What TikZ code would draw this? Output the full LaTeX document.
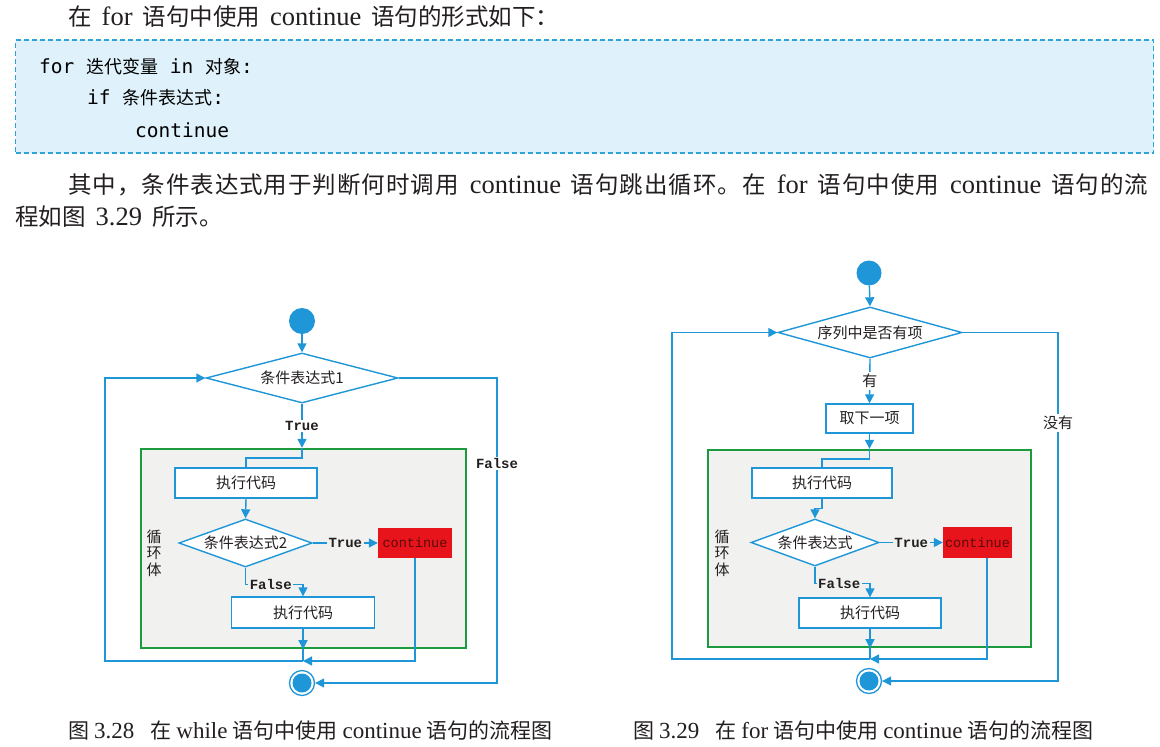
\documentclass[tikz,border=0pt]{standalone}
\usepackage{fontspec}
\setmainfont{Liberation Serif}
\newfontfamily\zh{Noto Sans CJK SC}
\newfontfamily\codefont{DejaVu Sans Mono}
\newfontfamily\flowmono{Liberation Mono}
\usetikzlibrary{arrows.meta,shapes.geometric,calc}

\definecolor{fblue}{HTML}{1E96D8}
\definecolor{loopgreen}{HTML}{1C9B3E}
\definecolor{loopfill}{HTML}{F1F1F0}
\definecolor{contred}{HTML}{E7141B}
\definecolor{contink}{HTML}{5A0A0A}
\definecolor{codefill}{HTML}{DFF1FA}
\definecolor{codeedge}{HTML}{2EA3DC}
\definecolor{ink}{HTML}{231F20}

% spread the characters of a run of text with stretchable glue
\def\spreadchars#1{\spreadaux#1\relax}
\def\spreadaux#1{\ifx#1\relax\else#1\hskip 0pt plus 1fil\relax\expandafter\spreadaux\fi}
% body text: CJK and Latin sizes, and the gap between them
\newcommand\bz[1]{{\zh\fontsize{23.5pt}{27pt}\selectfont #1}}
\newcommand\bl[1]{{\fontsize{26.5pt}{27pt}\selectfont #1}}
\newcommand\bgap{\hspace{10pt}}
% caption text
\newcommand\cz[1]{{\zh\fontsize{21pt}{24pt}\selectfont #1}}
\newcommand\cl[1]{{\fontsize{23pt}{24pt}\selectfont #1}}

\begin{document}
\begin{tikzpicture}[x=1pt,y=-1pt,
  body/.style={inner sep=0pt,anchor=west,text=ink},
  codeline/.style={inner sep=0pt,anchor=west,text=black,font=\fontsize{19.5pt}{24pt}\selectfont},
  codebox/.style={draw=codeedge,fill=codefill,line width=1.5pt,dash pattern=on 5pt off 3pt},
  caption/.style={inner sep=0pt,anchor=west,text=ink},
  flow/.style={draw=fblue,line width=1.4pt},
  arr/.style={flow,-{Triangle[length=9pt,width=9pt]}},
  stepbox/.style={draw=fblue,fill=white,line width=1.4pt,inner sep=0pt,text=ink,
    font=\fontsize{15pt}{18pt}\selectfont\zh},
  cond/.style={diamond,draw=fblue,fill=white,line width=1.4pt,inner sep=0pt,aspect=3.6,text=ink,
    font=\fontsize{15pt}{18pt}\selectfont\zh},
  contbox/.style={fill=contred,inner sep=0pt,text=contink,font=\fontsize{13.5pt}{16pt}\selectfont\flowmono},
  loopbox/.style={draw=loopgreen,fill=loopfill,line width=2.4pt,inner sep=0pt},
  startc/.style={circle,fill=fblue,inner sep=0pt,minimum size=26pt},
  endc/.style={circle,draw=fblue,line width=1.3pt,fill=white,inner sep=0pt,minimum size=25pt,
    path picture={\fill[fblue] (path picture bounding box.center) circle (9.5pt);}},
  lbl/.style={inner sep=1.5pt,text=ink,font=\fontsize{14pt}{16pt}\selectfont\bfseries\flowmono},
  zhlbl/.style={inner sep=2pt,text=ink,font=\fontsize{15pt}{18pt}\selectfont\zh},
  looptag/.style={inner sep=0pt,align=center,text=ink,font=\fontsize{15pt}{16.5pt}\selectfont\zh}
]
\useasboundingbox (0,0) rectangle (1160,747);
\fill[white] (0,0) rectangle (1160,747);

% ---- running text and code sample ----
\node[body] (t1) at (68,17) {\bz{在}\bgap\bl{for}\bgap\bz{语句中使用}\bgap\bl{continue}\bgap\bz{语句的形式如下：}};
\node[codebox,minimum width=1138pt,minimum height=113pt] (code) at (584.5,96.5) {};
\node[codeline] (c1) at (39,67) {{\codefont for }{\zh\fontsize{18pt}{22pt}\selectfont 迭代变量}{\codefont{} in }{\zh\fontsize{18pt}{22pt}\selectfont 对象}{\codefont :}};
\node[codeline] (c2) at (87,98) {{\codefont if }{\zh\fontsize{18pt}{22pt}\selectfont 条件表达式}{\codefont :}};
\node[codeline] (c3) at (135,130) {\codefont continue};
\node[body] (t2) at (68,185) {\hbox to 1080pt{\bz{\spreadchars{其中，条件表达式用于判断何时调用}}\bgap\bl{continue}\bgap\bz{\spreadchars{语句跳出循环。在}}\bgap\bl{for}\bgap\bz{\spreadchars{语句中使用}}\bgap\bl{continue}\bgap\bz{\spreadchars{语句的}流}}};
\node[body] (t3) at (15,217) {\bz{程如图}\bgap\bl{3.29}\bgap\bz{所示。}};

% ---- while loop with continue ----
\node[loopbox,minimum width=325pt,minimum height=199pt] (aLoop) at (303.5,548.5) {};
\node[startc] (aS) at (302,321) {};
\node[cond,minimum width=192pt,minimum height=50pt] (aD1) at (302,378) {条件表达式1};
\node[stepbox,minimum width=142pt,minimum height=30pt] (aB1) at (246,483) {执行代码};
\node[cond,minimum width=121pt,minimum height=48pt] (aD2) at (245.5,543) {条件表达式2};
\node[contbox,minimum width=74pt,minimum height=30pt] (aC) at (415,543) {continue};
\node[stepbox,minimum width=143pt,minimum height=31pt] (aB2) at (303,612.5) {执行代码};
\node[endc] (aE) at (302,683) {};
\node[looptag] (aTag) at (154,553) {循\\环\\体};
\coordinate (aJ) at (aB2.south |- 0,661);
\coordinate (aL) at (105,661);
\coordinate (aR) at (497,683);

\draw[arr] (aS) -- (aD1.north);
\draw[arr] (aD1.south) -- node[lbl,fill=white]{True} (aD1.south |- aLoop.north);
\draw[flow] (aD1.south |- aLoop.north) -- ++(0,10) -| (aB1.north);
\draw[arr] (aB1.south) -- (aD2.north);
\draw[arr] (aD2.east) -- node[lbl,fill=loopfill]{True} (aC.west);
\draw[arr] (aD2.south) |- node[lbl,fill=loopfill,pos=0.72]{False} ($(aB2.north)+(0,-12)$) -- (aB2.north);
\draw[arr] (aB2.south) -- (aB2.south |- aLoop.south);
\draw[flow] (aB2.south |- aLoop.south) -- (aJ);
\draw[arr] (aC.south) |- (aJ);
\draw[arr] (aJ) -- (aL) |- (aD1.west);
\draw[arr] (aD1.east) -| node[lbl,fill=white,pos=0.64]{False} (aR) -- (aE.east);

% ---- for loop with continue ----
\node[loopbox,minimum width=323pt,minimum height=197pt] (bLoop) at (869.5,548.5) {};
\node[startc,minimum size=25pt] (bS) at (869,273) {};
\node[cond,minimum width=184pt,minimum height=51pt] (bD1) at (870,332.5) {序列中是否有项};
\node[stepbox,minimum width=87pt,minimum height=29pt] (bT) at (869.5,418.5) {取下一项};
\node[stepbox,minimum width=140pt,minimum height=30pt] (bB1) at (822,483) {执行代码};
\node[cond,minimum width=128pt,minimum height=47pt] (bD2) at (815,542.5) {条件表达式};
\node[contbox,minimum width=69pt,minimum height=31pt] (bC) at (977.5,542.5) {continue};
\node[stepbox,minimum width=142pt,minimum height=30pt] (bB2) at (870,613) {执行代码};
\node[endc] (bE) at (869,681) {};
\node[looptag] (bTag) at (722,553) {循\\环\\体};
\coordinate (bJ) at (bB2.south |- 0,659);
\coordinate (bL) at (672,659);
\coordinate (bR) at (1058,681);

\draw[arr] (bS) -- (bD1.north);
\draw[arr] (bD1.south) -- node[zhlbl,fill=white]{有} (bT.north);
\draw[arr] (bT.south) -- (bT.south |- bLoop.north);
\draw[flow] (bT.south |- bLoop.north) -- ++(0,10) -| (bB1.north);
\draw[arr] (bB1.south) -- ++(0,10) -| (bD2.north);
\draw[arr] (bD2.east) -- node[lbl,fill=loopfill]{True} (bC.west);
\draw[arr] (bD2.south) |- node[lbl,fill=loopfill,pos=0.72]{False} ($(bB2.north)+(0,-14)$) -- (bB2.north);
\draw[arr] (bB2.south) -- (bB2.south |- bLoop.south);
\draw[flow] (bB2.south |- bLoop.south) -- (bJ);
\draw[arr] ([xshift=9.5pt]bC.south) |- (bJ);
\draw[arr] (bJ) -- (bL) |- (bD1.west);
\draw[arr] (bD1.east) -| node[zhlbl,fill=white,pos=0.63]{没有} (bR) -- (bE.east);

% ---- captions ----
\node[caption] (capA) at (68,731) {\cz{图}\hspace{5pt}\cl{3.28}\hspace{16pt}\cz{在}\hspace{5pt}\cl{while}\hspace{5pt}\cz{语句中使用}\hspace{5pt}\cl{continue}\hspace{5pt}\cz{语句的流程图}};
\node[caption] (capB) at (633,731) {\cz{图}\hspace{5pt}\cl{3.29}\hspace{16pt}\cz{在}\hspace{5pt}\cl{for}\hspace{5pt}\cz{语句中使用}\hspace{5pt}\cl{continue}\hspace{5pt}\cz{语句的流程图}};
\end{tikzpicture}
\end{document}
